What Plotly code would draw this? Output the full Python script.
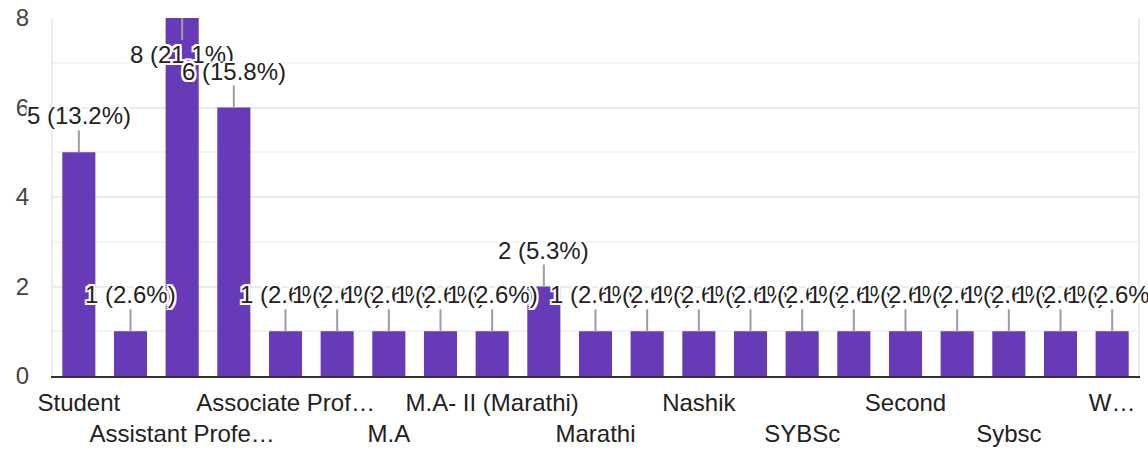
import plotly.graph_objects as go

categories = [
    "Student", "Lecturer", "Assistant Professor", "Assistant professor",
    "Associate Professor", "Head of Department", "M.A", "M.A- I",
    "M.A- II (Marathi)", "MA Marathi", "Marathi", "Marathi Department",
    "Nashik", "PhD Scholar", "SYBSc", "SYBA", "Second", "Sy bsc",
    "Sybsc", "TYBSc", "Working",
]
values = [5, 1, 8, 6, 1, 1, 1, 1, 1, 2, 1, 1, 1, 1, 1, 1, 1, 1, 1, 1, 1]
tick_labels = {
    "Student": "Student",
    "Assistant Professor": "Assistant Profe\u2026",
    "Associate Professor": "Associate Prof\u2026",
    "M.A": "M.A",
    "M.A- II (Marathi)": "M.A- II (Marathi)",
    "Marathi": "Marathi",
    "Nashik": "Nashik",
    "SYBSc": "SYBSc",
    "Second": "Second",
    "Sybsc": "Sybsc",
    "Working": "W\u2026",
}

total = sum(values)
ymax = 8
FONT = "Arial, Liberation Sans, sans-serif"
PURPLE = "#673ab7"

fig = go.Figure(go.Bar(x=categories, y=values, marker_color=PURPLE,
                       marker_line_width=0, hoverinfo="skip"))

halo = ", ".join(f"{dx}px {dy}px 0 #fff" for dx, dy in
                 [(-2, -2), (2, -2), (-2, 2), (2, 2), (0, 2), (0, -2), (2, 0), (-2, 0)])

annotations = []
for c, v in zip(categories, values):
    inside = v >= ymax
    annotations.append(dict(
        x=c, y=v, xref="x", yref="y",
        text=f"{v} ({v / total * 100:.1f}%)",
        showarrow=True, arrowhead=0, arrowwidth=2, arrowcolor="#9e9e9e",
        ax=0, ay=22 if inside else -22, standoff=0,
        xanchor="center", yanchor="top" if inside else "bottom",
        font=dict(family=FONT, size=24, color="#222222", shadow=halo),
        borderpad=0,
    ))

shown = [c for c in categories if c in tick_labels]
ticktext = []
for k, c in enumerate(shown):
    t = tick_labels[c]
    ticktext.append(t if k % 2 == 0 else "\u00a0<br>" + t)

fig.update_layout(
    width=1148, height=456,
    margin=dict(l=53, r=10, t=18, b=80),
    paper_bgcolor="white", plot_bgcolor="white",
    showlegend=False, bargap=0.36,
    font=dict(family=FONT, size=24, color="#444444"),
    annotations=annotations,
    xaxis=dict(
        type="category", tickmode="array", tickvals=shown, ticktext=ticktext,
        automargin=False,
        showline=True, linecolor="#333333", linewidth=2,
        showgrid=False, ticks="outside", ticklen=4, tickcolor="rgba(0,0,0,0)",
        tickfont=dict(family=FONT, size=24, color="#222222"), tickangle=0,
        range=[-0.5, len(categories) - 0.5],
    ),
    yaxis=dict(
        range=[0, ymax], dtick=2, tick0=0, automargin=False,
        ticklabeloverflow="allow",
        showgrid=True, gridcolor="#ebebeb", gridwidth=2,
        minor=dict(dtick=1, showgrid=True, gridcolor="#f4f4f4", gridwidth=2),
        showline=True, linecolor="#ebebeb", linewidth=2, mirror=True,
        zeroline=False,
        ticks="outside", ticklen=17, tickcolor="rgba(0,0,0,0)",
        tickfont=dict(family=FONT, size=24, color="#444444"),
    ),
)

fig.write_html(
    "out.html",
    config={"displayModeBar": False},
    post_script="document.body.style.margin='0';document.body.style.overflow='hidden';",
)
